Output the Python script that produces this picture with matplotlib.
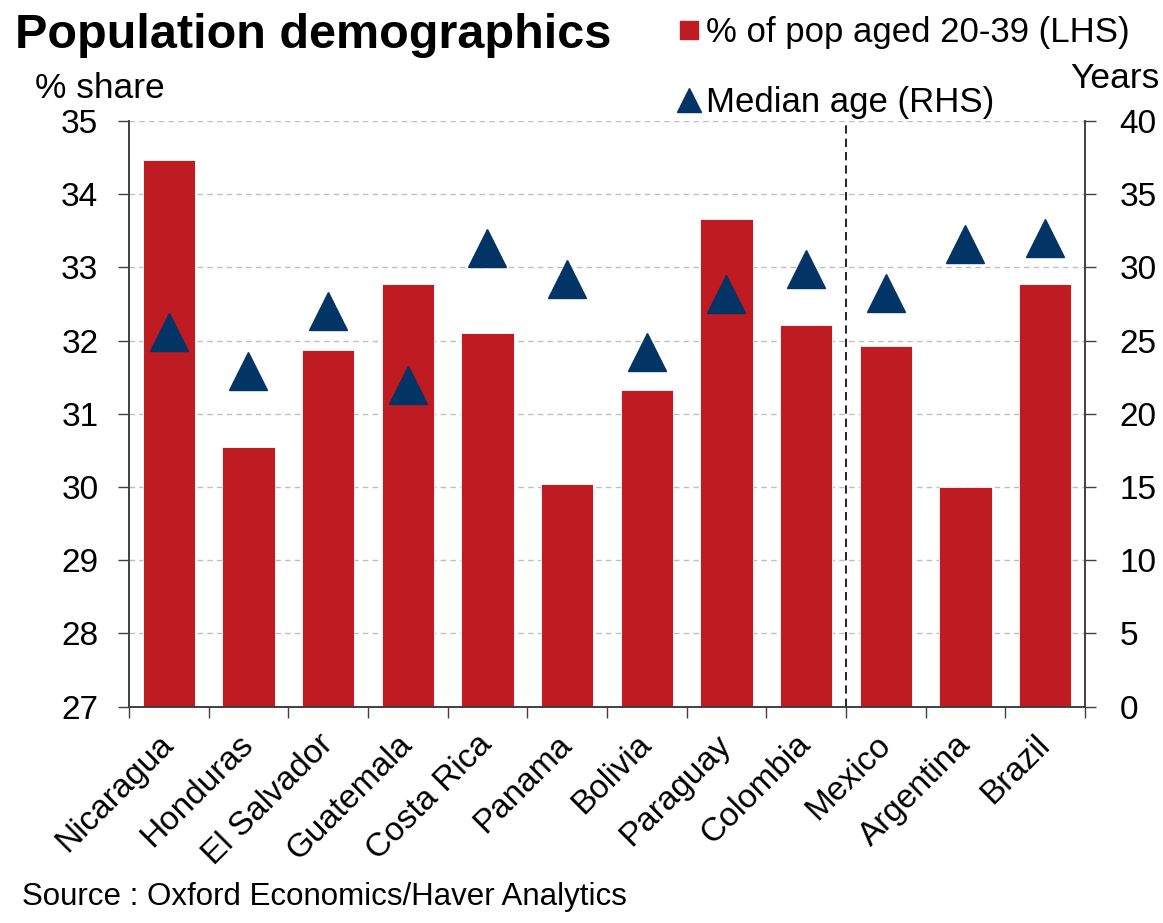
import matplotlib
matplotlib.use("Agg")
import matplotlib.pyplot as plt
from matplotlib.lines import Line2D
import numpy as np

plt.rcParams['font.family'] = ['Liberation Sans', 'DejaVu Sans']

countries = ["Nicaragua", "Honduras", "El Salvador", "Guatemala", "Costa Rica",
             "Panama", "Bolivia", "Paraguay", "Colombia", "Mexico", "Argentina", "Brazil"]
share_20_39 = [34.47, 30.54, 31.87, 32.77, 32.11, 30.04, 31.33, 33.66, 32.22, 31.92, 30.0, 32.77]
median_age = [25.6, 22.9, 27.0, 22.0, 31.3, 29.2, 24.2, 28.2, 29.9, 28.25, 31.6, 32.0]
left_ticks = [27, 28, 29, 30, 31, 32, 33, 34, 35]
right_ticks = [0, 5, 10, 15, 20, 25, 30, 35, 40]

RED = "#BE1B22"
NAVY = "#033466"
SPINE = "#404040"

fig = plt.figure(figsize=(11.63, 9.23), dpi=100)
ax = fig.add_axes([0.1109, 0.2345, 0.8220, 0.6343])
ax2 = ax.twinx()

x = np.arange(len(countries))
ax.bar(x, share_20_39, width=0.66, color=RED, edgecolor="white", linewidth=0.6,
       bottom=0, zorder=2)
ax.set_ylim(left_ticks[0], left_ticks[-1])
ax.set_xlim(-0.5, len(countries) - 0.5)
ax.set_yticks(left_ticks)
ax.yaxis.grid(True, linestyle=(0, (4, 3)), color="#BFBFBF", linewidth=1.0, zorder=0)
ax.set_axisbelow(True)

# regional split between Central/Andean group and the larger economies
ax.axvline(8.5, color="black", linestyle=(0, (5, 3)), linewidth=1.2, zorder=3)

ax2.plot(x, median_age, linestyle="none", marker="^", markersize=27,
         color=NAVY, zorder=4)
ax2.set_ylim(right_ticks[0], right_ticks[-1])
ax2.set_yticks(right_ticks)

# category boundaries as ticks, names centred under bars
ax.set_xticks(np.arange(-0.5, len(countries), 1.0))
ax.set_xticklabels([])
ax.set_xticks(x, minor=True)
ax.set_xticklabels(countries, minor=True, rotation=45, ha="right",
                   va="center", rotation_mode="anchor", fontsize=24)
ax.tick_params(axis="x", which="minor", length=0, pad=24)
ax.tick_params(axis="x", which="major", length=8, width=1, color=SPINE, direction="out")

ax.tick_params(axis="y", labelsize=24, length=8, width=1, color=SPINE, pad=14)
ax2.tick_params(axis="y", labelsize=24, length=8, width=1, color=SPINE, pad=17)

for a in (ax, ax2):
    a.spines["top"].set_visible(False)
    for s in ("left", "right", "bottom"):
        a.spines[s].set_color(SPINE)
        a.spines[s].set_linewidth(1.2)

fig.text(0.013, 0.948, "Population demographics", fontsize=35, fontweight="bold",
         ha="left", va="baseline")
fig.text(0.030, 0.894, "% share", fontsize=25.5, ha="left", va="baseline")
fig.text(0.997, 0.905, "Years", fontsize=25.5, ha="right", va="baseline")
fig.text(0.019, 0.0195, "Source : Oxford Economics/Haver Analytics", fontsize=22.5,
         ha="left", va="baseline")

h_bar = Line2D([], [], linestyle="none", marker="s", markersize=12.5, color=RED)
h_tri = Line2D([], [], linestyle="none", marker="^", markersize=17, color=NAVY)
leg1 = fig.legend(handles=[h_bar], labels=["% of pop aged 20-39 (LHS)"],
                  loc="center left", bbox_to_anchor=(0.573, 0.965), frameon=False,
                  fontsize=25, handlelength=0.5, handletextpad=0.25, borderaxespad=0)
leg2 = fig.legend(handles=[h_tri], labels=["Median age (RHS)"],
                  loc="center left", bbox_to_anchor=(0.573, 0.889), frameon=False,
                  fontsize=25, handlelength=0.5, handletextpad=0.25, borderaxespad=0)

fig.savefig("out.png", dpi=100)
